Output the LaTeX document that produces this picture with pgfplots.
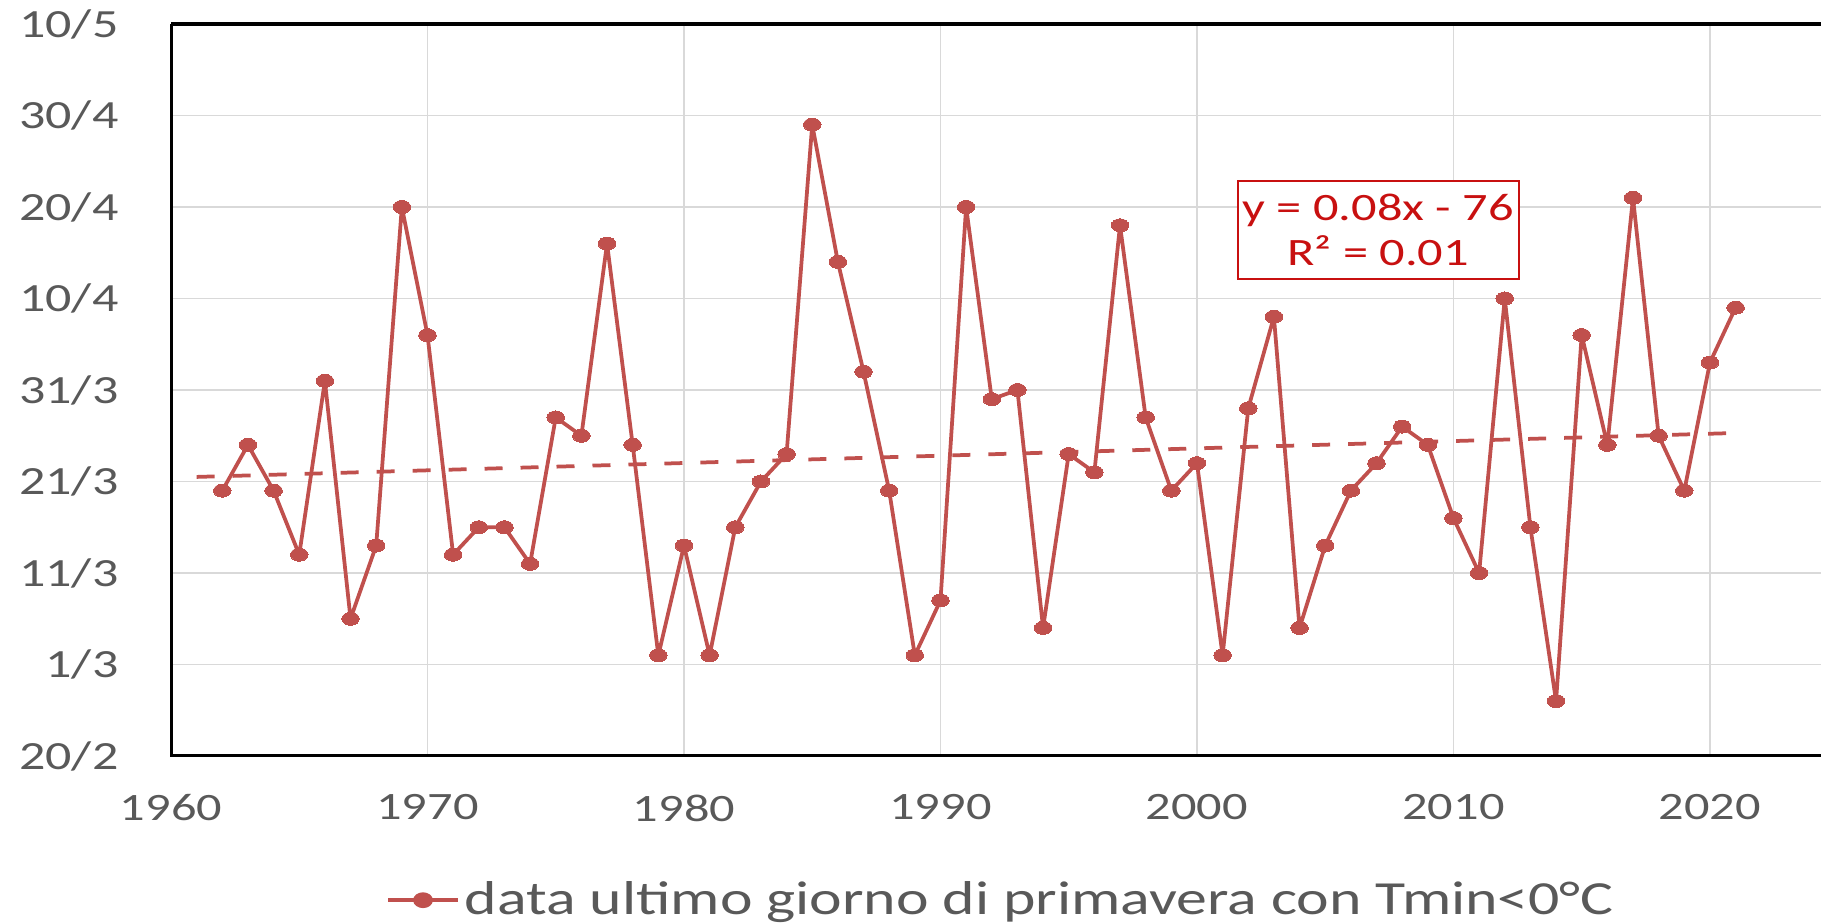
\documentclass[border=0pt]{standalone}
\usepackage{fontspec}
\setmainfont{Carlito}[FakeStretch=1.3]
\usepackage{pgfplots}
\pgfplotsset{compat=1.18}
\definecolor{serie}{RGB}{192,80,77}
\definecolor{lab}{RGB}{89,89,89}
\definecolor{gridc}{RGB}{217,217,217}
\definecolor{eqred}{RGB}{200,16,16}
\begin{document}
\begin{tikzpicture}
\useasboundingbox (0,0) rectangle (728.4pt,369.2pt);
\begin{axis}[
  at={(68.4pt,66.8pt)}, anchor=south west,
  width=660pt, height=292.8pt, scale only axis,
  xmin=1960, xmax=2024.33, ymin=0, ymax=80,
  xtick={1960,1970,...,2020},
  ytick={0,10,...,80},
  yticklabels={20/2,1/3,11/3,21/3,31/3,10/4,20/4,30/4,10/5},
  /pgf/number format/1000 sep={},
  /pgf/number format/assume math mode=true,
  major tick length=0pt,
  grid=major,
  major grid style={draw=gridc, line width=0.6pt},
  axis line style={draw=none},
  tick label style={font=\fontsize{15.5}{18}\selectfont, text=lab},
  xticklabel style={yshift=-12pt},
  yticklabel style={xshift=-17.5pt, font=\fontsize{16}{18}\selectfont},
  legend style={at={(0.504,-0.197)}, anchor=center, draw=none, fill=none,
     font=\fontsize{19}{22}\selectfont, text=lab, inner sep=0pt},
  legend cell align=left,
  legend image code/.code={
     \draw[serie, line width=1.5pt] (0pt,0pt) -- (28pt,0pt);
     \fill[serie] (14pt,0pt) ellipse (3.2pt and 2.4pt);},
  clip=false,
]
\addplot[serie, line width=1.5pt, line join=round, mark=*, mark size=2.6pt,
  mark options={xscale=1.35, fill=serie, draw=serie, line width=0pt}] coordinates {
(1962,29) (1963,34) (1964,29) (1965,22) (1966,41) (1967,15) (1968,23) (1969,60)
(1970,46) (1971,22) (1972,25) (1973,25) (1974,21) (1975,37) (1976,35) (1977,56)
(1978,34) (1979,11) (1980,23) (1981,11) (1982,25) (1983,30) (1984,33) (1985,69)
(1986,54) (1987,42) (1988,29) (1989,11) (1990,17) (1991,60) (1992,39) (1993,40)
(1994,14) (1995,33) (1996,31) (1997,58) (1998,37) (1999,29) (2000,32) (2001,11)
(2002,38) (2003,48) (2004,14) (2005,23) (2006,29) (2007,32) (2008,36) (2009,34)
(2010,26) (2011,20) (2012,50) (2013,25) (2014,6) (2015,46) (2016,34) (2017,61)
(2018,35) (2019,29) (2020,43) (2021,49)
};
\addlegendentry{data ultimo giorno di primavera con Tmin<0°C}
\addplot[serie, line width=1.5pt, dash pattern=on 7.2pt off 7.2pt, forget plot] coordinates {
(1961,30.5) (2021,35.3)
};
\draw[black, line width=1.2pt] (rel axis cs:0,1) -- (rel axis cs:0,0) -- (rel axis cs:1,0);
\draw[black, line width=1.6pt] (rel axis cs:0,1) -- (rel axis cs:1,1);
\node[draw=eqred, line width=0.6pt, fill=white, text=eqred, align=center,
  minimum width=110.8pt, minimum height=39.2pt, inner sep=2pt,
  font=\fontsize{15.5}{18}\selectfont] at (axis cs:2007.07,57.5)
  {y = 0.08x - 76\\R² = 0.01};
\end{axis}
\end{tikzpicture}
\end{document}
